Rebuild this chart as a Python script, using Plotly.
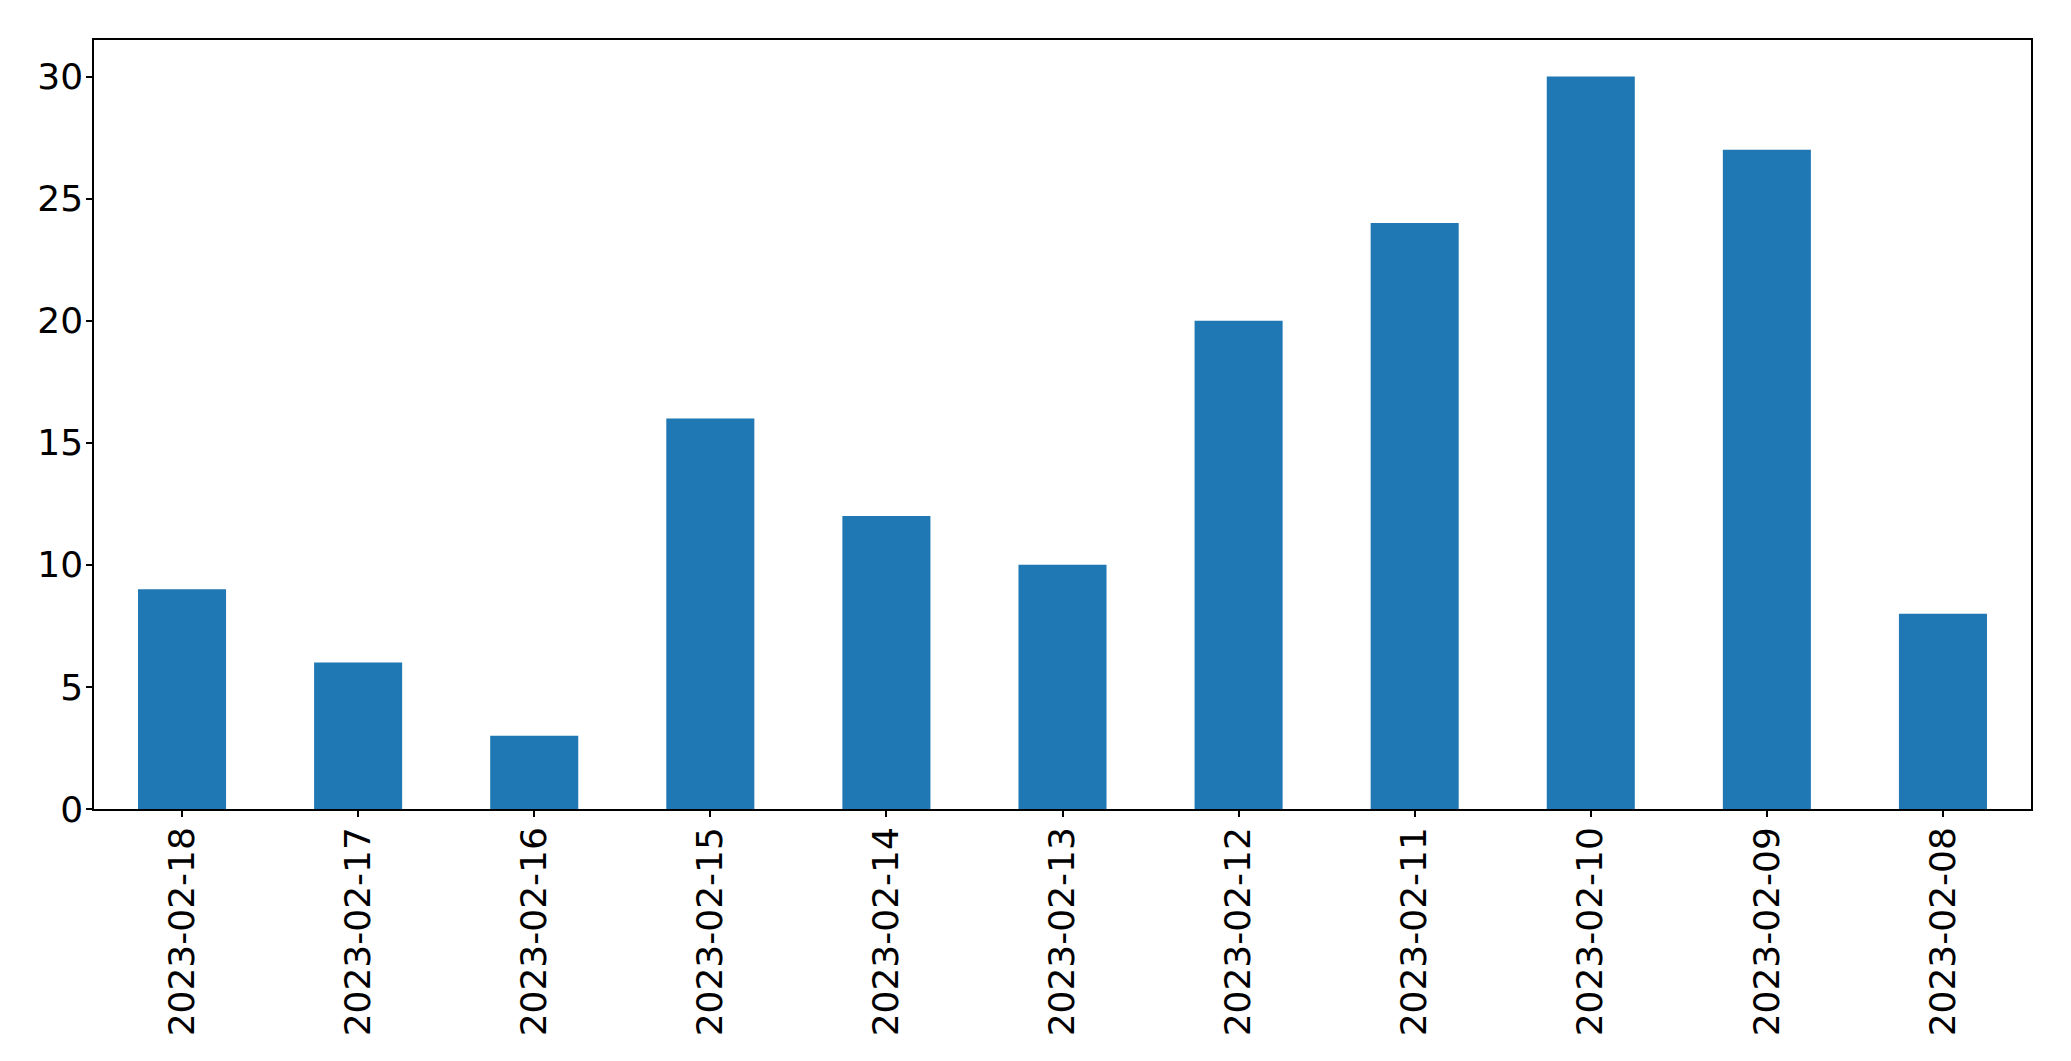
import plotly.graph_objects as go

dates = ["2023-02-18", "2023-02-17", "2023-02-16", "2023-02-15", "2023-02-14",
         "2023-02-13", "2023-02-12", "2023-02-11", "2023-02-10", "2023-02-09", "2023-02-08"]
counts = [9, 6, 3, 16, 12, 10, 20, 24, 30, 27, 8]

fig = go.Figure(go.Bar(x=dates, y=counts, marker=dict(color="#1f77b4", line=dict(width=0)), width=0.5))

fig.update_layout(
    template="none",
    width=2063, height=1053,
    margin=dict(l=86, r=40, t=32, b=252, autoexpand=False),
    paper_bgcolor="white", plot_bgcolor="white",
    font=dict(family="DejaVu Sans", size=36, color="black"),
    showlegend=False,
)
fig.update_xaxes(
    type="category", range=[-0.5, 10.5], automargin=False,
    showline=True, mirror=True, linecolor="black", linewidth=1.5,
    ticks="outside", ticklen=6, tickwidth=1.5, tickcolor="black",
    tickangle=-90, showgrid=False, zeroline=False, ticklabelstandoff=-4,
)
fig.update_yaxes(
    range=[0, 31.5], dtick=5, tick0=0, automargin=False,
    showline=True, mirror=True, linecolor="black", linewidth=1.5,
    ticks="outside", ticklen=6, tickwidth=1.5, tickcolor="black",
    showgrid=False, zeroline=False, ticklabelstandoff=-4,
)
fig.write_html("out.html")
